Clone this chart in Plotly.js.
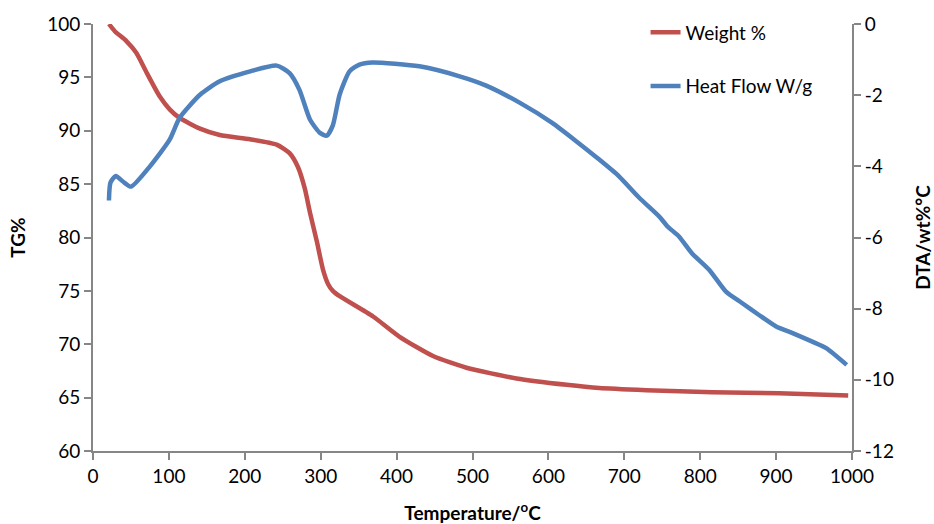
<!DOCTYPE html>
<html><head><meta charset="utf-8">
<script src="https://cdn.plot.ly/plotly-3.0.1.min.js"></script>
<style>html,body{margin:0;padding:0;background:#fff}#c{width:934px;height:524px}</style>
</head><body><div id="c"></div>
<script>
const tgTemp = [21, 29, 44, 57, 71, 88, 101, 114, 141, 167, 207, 242, 259, 270, 279, 286, 295, 303, 310, 316, 325, 369, 404, 448, 492, 558, 624, 667, 729, 816, 904, 995];
const tgWeight = [100, 99.3, 98.4, 97.3, 95.4, 93.2, 92.0, 91.2, 90.2, 89.6, 89.2, 88.7, 87.9, 86.6, 84.6, 82.3, 79.6, 77.0, 75.6, 75.0, 74.5, 72.6, 70.7, 68.9, 67.8, 66.8, 66.2, 65.9, 65.7, 65.5, 65.4, 65.2];

const dtaTemp = [21, 23, 30, 39, 50, 75, 101, 114, 141, 167, 207, 242, 259, 272, 286, 299, 308, 316, 325, 338, 351, 368, 430, 483, 518, 562, 605, 637, 667, 693, 720, 746, 757, 772, 789, 812, 834, 855, 877, 900, 921, 947, 966, 993];
const dtaHeat = [-4.96, -4.46, -4.27, -4.42, -4.57, -4.0, -3.25, -2.64, -1.99, -1.61, -1.33, -1.17, -1.38, -1.85, -2.69, -3.06, -3.14, -2.85, -1.98, -1.33, -1.14, -1.08, -1.19, -1.47, -1.73, -2.21, -2.78, -3.3, -3.81, -4.28, -4.89, -5.41, -5.69, -5.97, -6.44, -6.91, -7.52, -7.84, -8.17, -8.5, -8.68, -8.92, -9.11, -9.58];

const xTicks = [0,100,200,300,400,500,600,700,800,900,1000];
const yTicks = [60,65,70,75,80,85,90,95,100];
const y2Ticks = [0,-2,-4,-6,-8,-10,-12];

const FONT = 'Lato, Carlito, "Open Sans", sans-serif';
const axisCol = '#868686';

const traces = [
  {x: tgTemp, y: tgWeight, name: 'Weight %', type: 'scatter', mode: 'lines',
   line: {color: '#C0504D', width: 4.5, shape: 'spline', smoothing: 0.6}, legendgroup: 'a'},
  {x: dtaTemp, y: dtaHeat, name: 'Heat Flow W/g', type: 'scatter', mode: 'lines', yaxis: 'y2',
   line: {color: '#4F81BD', width: 4.5, shape: 'spline', smoothing: 0.6}, legendgroup: 'b'}
];

const layout = {
  width: 934, height: 524,
  margin: {l: 93, r: 82, t: 24, b: 73},
  paper_bgcolor: '#fff', plot_bgcolor: '#fff',
  font: {family: FONT, size: 19, color: '#000'},
  showlegend: true,
  legend: {x: 0.728, y: 1.025, xanchor: 'left', yanchor: 'top', traceorder: 'grouped', tracegroupgap: 26,
           font: {family: FONT, size: 19, color: '#000'}, bgcolor: 'rgba(0,0,0,0)'},
  xaxis: {range: [0, 1000], tickvals: xTicks, ticktext: xTicks.map(String), showgrid: false, zeroline: false,
          showline: true, linecolor: axisCol, linewidth: 2, ticks: 'outside', ticklen: 7, tickcolor: axisCol, tickwidth: 2,
          tickfont: {family: FONT, size: 19}, 
          title: {text: 'Temperature/<sup>o</sup>C', font: {family: FONT, size: 19, weight: 'bold'}, standoff: 22}},
  yaxis: {range: [60, 100], tickvals: yTicks, ticktext: yTicks.map(String), showgrid: false, zeroline: false,
          showline: true, linecolor: axisCol, linewidth: 2, ticks: 'outside', ticklen: 7, tickcolor: axisCol, tickwidth: 2,
          tickfont: {family: FONT, size: 19},
          title: {text: 'TG%', font: {family: FONT, size: 19, weight: 'bold'}, standoff: 16}},
  yaxis2: {range: [-12, 0], overlaying: 'y', side: 'right', tickvals: y2Ticks, ticktext: y2Ticks.map(String),
          showgrid: false, zeroline: false,
          showline: true, linecolor: axisCol, linewidth: 2, ticks: 'outside', ticklen: 7, tickcolor: axisCol, tickwidth: 2,
          tickfont: {family: FONT, size: 19},
          title: {text: 'DTA/wt%°C', font: {family: FONT, size: 19, weight: 'bold'}, standoff: 24}}
};

Plotly.newPlot('c', traces, layout, {displayModeBar: false, staticPlot: true});
</script></body></html>
